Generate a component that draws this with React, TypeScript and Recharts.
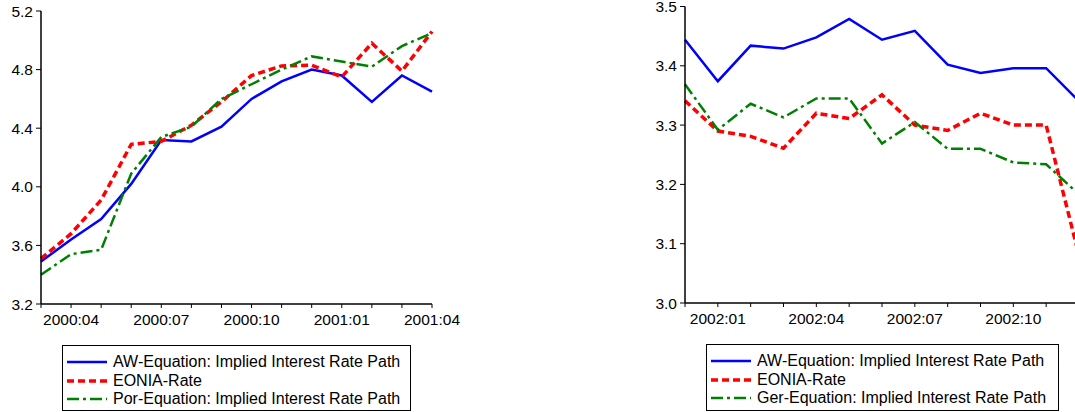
import React from "react";
import { LineChart, Line, XAxis, YAxis } from "recharts";

const monthsLeft = ["2000:03","2000:04","2000:05","2000:06","2000:07","2000:08","2000:09","2000:10","2000:11","2000:12","2001:01","2001:02","2001:03","2001:04"];
const awLeft = [3.49,3.64,3.78,4.02,4.32,4.31,4.41,4.60,4.72,4.80,4.76,4.58,4.76,4.65];
const eoniaLeft = [3.51,3.68,3.91,4.29,4.31,4.42,4.58,4.76,4.825,4.83,4.75,4.98,4.79,5.06];
const porLeft = [3.40,3.54,3.57,4.09,4.34,4.41,4.60,4.70,4.80,4.89,4.855,4.82,4.96,5.05];
const ticksLeftY = [3.2,3.6,4.0,4.4,4.8,5.2];
const labelsLeftX = ["2000:04","2000:07","2000:10","2001:01","2001:04"];

const monthsRight = ["2001:12","2002:01","2002:02","2002:03","2002:04","2002:05","2002:06","2002:07","2002:08","2002:09","2002:10","2002:11","2002:12"];
const awRight = [3.444,3.374,3.434,3.429,3.448,3.479,3.444,3.459,3.402,3.388,3.396,3.396,3.34];
const eoniaRight = [3.341,3.29,3.281,3.261,3.32,3.311,3.351,3.30,3.291,3.32,3.30,3.30,3.08];
const gerRight = [3.369,3.292,3.336,3.313,3.345,3.345,3.269,3.305,3.26,3.26,3.237,3.234,3.183];
const ticksRightY = [3.0,3.1,3.2,3.3,3.4,3.5];
const labelsRightX = ["2002:01","2002:04","2002:07","2002:10","2003:01"];

const legendLeft = ["AW-Equation: Implied Interest Rate Path","EONIA-Rate","Por-Equation: Implied Interest Rate Path"];
const legendRight = ["AW-Equation: Implied Interest Rate Path","EONIA-Rate","Ger-Equation: Implied Interest Rate Path"];

const FONT = "'Liberation Sans', Arial, sans-serif";
const BLUE = "#0000ff";
const RED = "#ff0000";
const GREEN = "#008000";
const DASH_RED = "7 4";
const DASH_GREEN = "12 4 3 4";

const dataLeft = monthsLeft.map((m, i) => ({ m, a: awLeft[i], e: eoniaLeft[i], p: porLeft[i] }));
const dataRight = monthsRight.map((m, i) => ({ m, a: awRight[i], e: eoniaRight[i], p: gerRight[i] }));

function makeTick(labels: string[]) {
  return (props: any) => {
    const { x, y, payload } = props;
    if (!labels.includes(payload.value)) return <g />;
    return (
      <text x={x} y={y + 15} textAnchor="middle" fontSize={15.5} fontFamily={FONT} fill="#000">
        {payload.value}
      </text>
    );
  };
}

function Panel(props: { data: any[]; yTicks: number[]; labels: string[]; width: number; height: number; margin: any; yWidth: number }) {
  const { data, yTicks, labels, width, height, margin, yWidth } = props;
  return (
    <LineChart width={width} height={height} data={data} margin={margin}>
      <XAxis dataKey="m" xAxisId="b" interval={0} tickSize={4} tick={makeTick(labels)} axisLine={{ stroke: "#000", strokeWidth: 1.5 }} tickLine={{ stroke: "#000" }} height={30} />
      <XAxis dataKey="m" xAxisId="t" orientation="top" tick={false} tickLine={false} height={0} axisLine={{ stroke: "#000", strokeWidth: 1.5 }} />
      <YAxis yAxisId="l" domain={[yTicks[0], yTicks[yTicks.length - 1]]} ticks={yTicks} interval={0} width={yWidth} tickSize={5} tickMargin={3} tickFormatter={(v: number) => v.toFixed(1)} tick={{ fontSize: 15.5, fontFamily: FONT, fill: "#000" }} axisLine={{ stroke: "#000", strokeWidth: 1.5 }} tickLine={{ stroke: "#000" }} allowDataOverflow />
      <YAxis yAxisId="r" orientation="right" domain={[yTicks[0], yTicks[yTicks.length - 1]]} tick={false} tickLine={false} width={0} axisLine={{ stroke: "#000", strokeWidth: 1.5 }} />
      <Line xAxisId="b" yAxisId="l" dataKey="a" stroke={BLUE} strokeWidth={2.5} dot={false} isAnimationActive={false} />
      <Line xAxisId="b" yAxisId="l" dataKey="e" stroke={RED} strokeWidth={3.5} strokeDasharray={DASH_RED} dot={false} isAnimationActive={false} />
      <Line xAxisId="b" yAxisId="l" dataKey="p" stroke={GREEN} strokeWidth={2.5} strokeDasharray={DASH_GREEN} dot={false} isAnimationActive={false} />
    </LineChart>
  );
}

function LegendBox(props: { labels: string[]; left: number; top: number; width: number; height: number }) {
  const { labels, left, top, width, height } = props;
  const colors = [BLUE, RED, GREEN];
  const dashes = [undefined, DASH_RED, DASH_GREEN];
  const widths = [2.5, 3.5, 2.5];
  return (
    <div style={{ position: "absolute", left, top, width, height, border: "1px solid #000", boxSizing: "border-box", background: "#fff", fontFamily: FONT, fontSize: 16, color: "#000" }}>
      {labels.map((l, i) => (
        <div key={l} style={{ position: "absolute", left: 4, top: 7 + i * 18.5, height: 18, display: "flex", alignItems: "center", whiteSpace: "nowrap" }}>
          <svg width={40} height={10} style={{ marginRight: 6 }}>
            <line x1={0} y1={5} x2={40} y2={5} stroke={colors[i]} strokeWidth={widths[i]} strokeDasharray={dashes[i]} />
          </svg>
          <span>{l}</span>
        </div>
      ))}
    </div>
  );
}

export default function App() {
  return (
    <div style={{ position: "fixed", left: 0, top: 0, width: 1075, height: 412, overflow: "hidden", background: "#fff" }}>
      <div style={{ position: "absolute", left: 0, top: 0 }}>
        <Panel data={dataLeft} yTicks={ticksLeftY} labels={labelsLeftX} width={480} height={340} margin={{ top: 11, right: 48, bottom: 6, left: 0 }} yWidth={41} />
      </div>
      <div style={{ position: "absolute", left: 640, top: 0 }}>
        <Panel data={dataRight} yTicks={ticksRightY} labels={labelsRightX} width={449} height={340} margin={{ top: 6.5, right: 10, bottom: 7, left: 0 }} yWidth={45} />
      </div>
      <LegendBox labels={legendLeft} left={62} top={345} width={349} height={66} />
      <LegendBox labels={legendRight} left={706} top={344} width={353} height={67} />
    </div>
  );
}
